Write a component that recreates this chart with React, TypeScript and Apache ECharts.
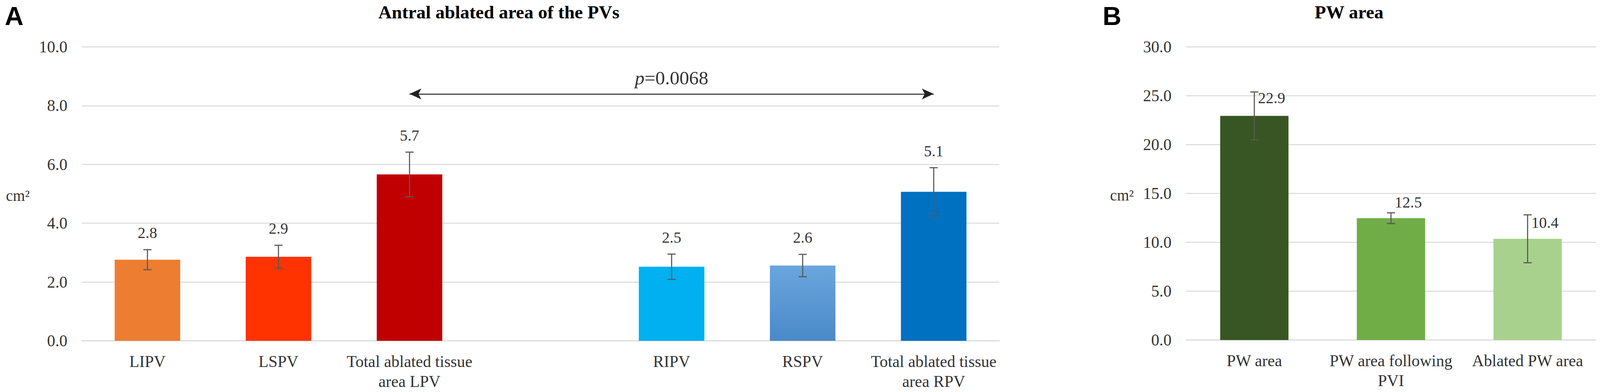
import React, { useEffect, useRef } from "react";
import * as echarts from "echarts";

// ---------- data ----------
const categoriesA = ["LIPV", "LSPV", "Total ablated tissue\narea LPV", "", "RIPV", "RSPV", "Total ablated tissue\narea RPV"];
const valuesA: (number | null)[] = [2.76, 2.86, 5.66, null, 2.52, 2.56, 5.07];
const errorsA: (number | null)[] = [0.34, 0.39, 0.76, null, 0.43, 0.38, 0.82];
const ticksA = { min: 0, max: 10, interval: 2 };
const pValueText = "=0.0068";
const arrowValue = 8.4;
const arrowFrom = 2;
const arrowTo = 6;

const categoriesB = ["PW area", "PW area following\nPVI", "Ablated PW area"];
const valuesB = [22.94, 12.47, 10.36];
const errorsB = [2.45, 0.55, 2.45];
const ticksB = { min: 0, max: 30, interval: 5 };

// ---------- styles ----------
const REF_W = 4317;
const REF_H = 1003;
const SERIF = '"Liberation Serif", "Times New Roman", serif';
const SANS = '"Liberation Sans", Arial, sans-serif';
const TEXT = "#333333";
const GRID = "#d9d9d9";
const ERR = "#595959";
const colorsA: any[] = [
  "#ED7D31",
  "#FF3300",
  "#C00000",
  "transparent",
  "#00B0F0",
  new echarts.graphic.LinearGradient(0, 0, 0, 1, [
    { offset: 0, color: "#6AA6DD" },
    { offset: 1, color: "#4A89C9" },
  ]),
  "#0070C0",
];
const colorsB = ["#375623", "#70AD47", "#A9D18E"];
const labelShiftB = [15, -27, 20];

function errRender(
  values: (number | null)[],
  indexMap: number[],
  panel: "A" | "B",
  sx: number,
  sy: number,
  s: number
) {
  return (params: any, api: any) => {
    const i = api.value(0);
    const k = indexMap[params.dataIndex];
    const hi = api.coord([i, api.value(2)]);
    const lo = api.coord([i, api.value(1)]);
    const cap = 11 * sx;
    const st = { stroke: ERR, lineWidth: 3 * s };
    const txt = (values[k] as number).toFixed(1);
    const font = `${42 * s}px ${SERIF}`;
    const label =
      panel === "A"
        ? {
            type: "text",
            x: hi[0],
            y: hi[1] - 43 * sy,
            style: { text: txt, align: "center", verticalAlign: "middle", font, fill: TEXT },
          }
        : {
            type: "text",
            x: hi[0] + 10 * sx,
            y: hi[1] + labelShiftB[k] * sy,
            style: { text: txt, align: "left", verticalAlign: "middle", font, fill: TEXT },
          };
    return {
      type: "group",
      children: [
        { type: "line", shape: { x1: hi[0], y1: hi[1], x2: lo[0], y2: lo[1] }, style: st },
        { type: "line", shape: { x1: hi[0] - cap, y1: hi[1], x2: hi[0] + cap, y2: hi[1] }, style: st },
        { type: "line", shape: { x1: lo[0] - cap, y1: lo[1], x2: lo[0] + cap, y2: lo[1] }, style: st },
        label,
      ],
    };
  };
}

export default function App() {
  const ref = useRef<HTMLDivElement>(null);
  useEffect(() => {
    if (!ref.current) return;
    const el = ref.current;
    const chart = echarts.init(el, undefined, { renderer: "svg" });
    const W = el.clientWidth || REF_W;
    const H = el.clientHeight || REF_H;
    const sx = W / REF_W;
    const sy = H / REF_H;
    const s = Math.min(sx, sy);
    const X = (v: number) => v * sx;
    const Y = (v: number) => v * sy;
    const F = (v: number) => v * s;

    const idxA: number[] = [];
    const errDataA: number[][] = [];
    valuesA.forEach((v, i) => {
      if (v != null && errorsA[i] != null) {
        idxA.push(i);
        errDataA.push([i, v - (errorsA[i] as number), v + (errorsA[i] as number)]);
      }
    });
    const idxB: number[] = [];
    const errDataB: number[][] = valuesB.map((v, i) => {
      idxB.push(i);
      return [i, v - errorsB[i], v + errorsB[i]];
    });

    const xAxisCommon = {
      type: "category",
      axisTick: { show: false },
      axisLine: { show: true, lineStyle: { color: GRID, width: F(2.5) } },
      axisLabel: {
        interval: 0,
        margin: Y(27),
        fontFamily: SERIF,
        fontSize: F(44),
        lineHeight: Y(51),
        color: TEXT,
      },
    };
    const yAxisCommon = {
      type: "value",
      axisLine: { show: false },
      axisTick: { show: false },
      splitLine: { show: true, lineStyle: { color: GRID, width: F(2.5) } },
      axisLabel: {
        margin: X(39),
        fontFamily: SERIF,
        fontSize: F(44),
        color: TEXT,
        formatter: (v: number) => v.toFixed(1),
      },
    };

    chart.setOption({
      animation: false,
      backgroundColor: "#ffffff",
      grid: [
        { left: X(221), top: Y(120), width: X(2475), height: Y(752) },
        { left: X(3200), top: Y(120), width: X(1106), height: Y(750) },
      ],
      xAxis: [
        { ...xAxisCommon, gridIndex: 0, data: categoriesA },
        { ...xAxisCommon, gridIndex: 1, data: categoriesB },
      ],
      yAxis: [
        { ...yAxisCommon, gridIndex: 0, ...ticksA },
        { ...yAxisCommon, gridIndex: 1, ...ticksB },
      ],
      graphic: [
        { type: "text", x: X(13), y: Y(41), style: { text: "A", font: `bold ${F(70)}px ${SANS}`, fill: "#000", verticalAlign: "middle" } },
        { type: "text", x: X(2975), y: Y(41), style: { text: "B", font: `bold ${F(70)}px ${SANS}`, fill: "#000", verticalAlign: "middle" } },
        {
          type: "text",
          x: X(1346),
          y: Y(31),
          style: { text: "Antral ablated area of the PVs", font: `bold ${F(50)}px ${SERIF}`, fill: "#000", align: "center", verticalAlign: "middle" },
        },
        {
          type: "text",
          x: X(3640),
          y: Y(31),
          style: { text: "PW area", font: `bold ${F(50)}px ${SERIF}`, fill: "#000", align: "center", verticalAlign: "middle" },
        },
        {
          type: "text",
          x: X(48),
          y: Y(500),
          style: { text: "cm²", font: `${F(42)}px ${SERIF}`, fill: TEXT, align: "center", verticalAlign: "middle" },
        },
        {
          type: "text",
          x: X(3027),
          y: Y(499),
          style: { text: "cm²", font: `${F(42)}px ${SERIF}`, fill: TEXT, align: "center", verticalAlign: "middle" },
        },
      ],
      series: [
        {
          type: "bar",
          xAxisIndex: 0,
          yAxisIndex: 0,
          barWidth: "50%",
          data: valuesA.map((v, i) => (v == null ? "-" : { value: v, itemStyle: { color: colorsA[i] } })),
          markLine: {
            silent: true,
            symbol: ["arrow", "arrow"],
            symbolSize: [F(22), F(32)],
            lineStyle: { color: "#222222", width: F(2.5), type: "solid" },
            label: {
              show: true,
              position: "middle",
              distance: Y(16),
              formatter: "{i|p}{n|" + pValueText + "}",
              rich: {
                i: { fontFamily: SERIF, fontSize: F(52), fontStyle: "italic", color: TEXT },
                n: { fontFamily: SERIF, fontSize: F(52), color: TEXT },
              },
            },
            data: [[{ coord: [arrowFrom, arrowValue] }, { coord: [arrowTo, arrowValue] }]],
          },
        },
        {
          type: "custom",
          xAxisIndex: 0,
          yAxisIndex: 0,
          renderItem: errRender(valuesA, idxA, "A", sx, sy, s),
          encode: { x: 0, y: [1, 2] },
          data: errDataA,
          z: 5,
        },
        {
          type: "bar",
          xAxisIndex: 1,
          yAxisIndex: 1,
          barWidth: "50%",
          data: valuesB.map((v, i) => ({ value: v, itemStyle: { color: colorsB[i] } })),
        },
        {
          type: "custom",
          xAxisIndex: 1,
          yAxisIndex: 1,
          renderItem: errRender(valuesB, idxB, "B", sx, sy, s),
          encode: { x: 0, y: [1, 2] },
          data: errDataB,
          z: 5,
        },
      ],
    });
    return () => chart.dispose();
  }, []);
  return (
    <div
      ref={ref}
      style={{ position: "fixed", left: 0, top: 0, width: "100vw", height: "100vh", background: "#fff" }}
    />
  );
}
